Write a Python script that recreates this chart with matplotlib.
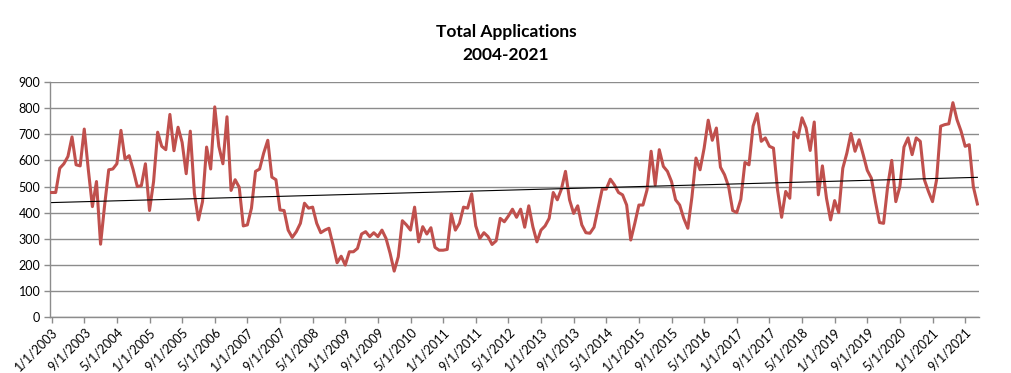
import numpy as np
import pandas as pd
import matplotlib
matplotlib.use("Agg")
import matplotlib.pyplot as plt

# monthly totals, Jan 2003 .. Dec 2021
applications = [
    477, 477, 570, 587, 615, 690, 583, 579, 720, 564, 423, 519,
    279, 429, 564, 567, 587, 715, 605, 618, 564, 500, 503, 587,
    408, 519, 708, 654, 641, 776, 637, 727, 669, 549, 712, 474,
    372, 442, 651, 567, 805, 654, 587, 767, 485, 526, 497, 349,
    353, 417, 558, 567, 628, 677, 536, 526, 410, 408, 333, 305,
    327, 359, 436, 417, 421, 359, 323, 333, 340, 276, 208, 233,
    199, 250, 250, 263, 318, 327, 308, 323, 308, 333, 301, 244,
    176, 231, 369, 353, 333, 421, 288, 346, 318, 342, 267, 256,
    256, 259, 395, 333, 359, 421, 417, 472, 349, 301, 323, 308,
    278, 292, 378, 365, 387, 413, 382, 413, 344, 426, 346, 288,
    333, 349, 378, 477, 449, 490, 558, 449, 397, 426, 353, 323,
    321, 344, 417, 490, 490, 528, 506, 477, 468, 429, 295, 359,
    429, 429, 487, 635, 506, 641, 577, 558, 519, 449, 429, 378,
    340, 459, 609, 564, 647, 754, 677, 724, 574, 545, 500, 408,
    400, 451, 592, 583, 731, 779, 673, 686, 654, 647, 487, 382,
    481, 455, 708, 686, 763, 724, 638, 747, 468, 579, 455, 372,
    446, 400, 570, 628, 703, 635, 679, 622, 562, 532, 442, 362,
    359, 500, 600, 442, 500, 651, 686, 622, 686, 673, 526, 481,
    442, 526, 731, 737, 740, 821, 756, 712, 654, 660, 500, 433,
]
months = pd.date_range("2003-01-01", periods=len(applications), freq="MS")
tick_months = months[::8]

x = np.arange(len(applications))
y = np.array(applications)
slope, intercept = np.polyfit(x, y, 1)

plt.rcParams["font.family"] = ["Lato", "DejaVu Sans"]

fig = plt.figure(figsize=(10.12, 3.73), dpi=100)
ax = fig.add_axes([0.0494, 0.150, 0.918, 0.630])

ax.plot(x, y, color="#C0504D", linewidth=2.2, solid_joinstyle="round", zorder=3)
ax.plot(x, slope * x + intercept, color="black", linewidth=0.8, zorder=4)

ax.set_ylim(0, 900)
ax.set_yticks(range(0, 901, 100))
ax.set_xlim(-0.4, len(applications) - 0.6)
ax.set_xticks(x[::8])
ax.set_xticklabels([f"{d.month}/1/{d.year}" for d in tick_months],
                   rotation=45, ha="right", rotation_mode="anchor")

ax.grid(axis="y", color="#8c8c8c", linewidth=1.0)
ax.set_axisbelow(True)
for side in ["top", "right"]:
    ax.spines[side].set_visible(False)
for side in ["left", "bottom"]:
    ax.spines[side].set_color("#8c8c8c")
    ax.spines[side].set_linewidth(1.0)
ax.tick_params(axis="both", colors="#8c8c8c", labelcolor="black",
               labelsize=9, length=4, width=1.0)
ax.tick_params(axis="y", pad=3)
ax.tick_params(axis="x", pad=2)

fig.text(0.5, 0.915, "Total Applications", ha="center", va="center",
         fontsize=12.5, fontweight="bold")
fig.text(0.5, 0.853, "2004-2021", ha="center", va="center",
         fontsize=12.5, fontweight="bold")

fig.savefig("out.png", dpi=100)
